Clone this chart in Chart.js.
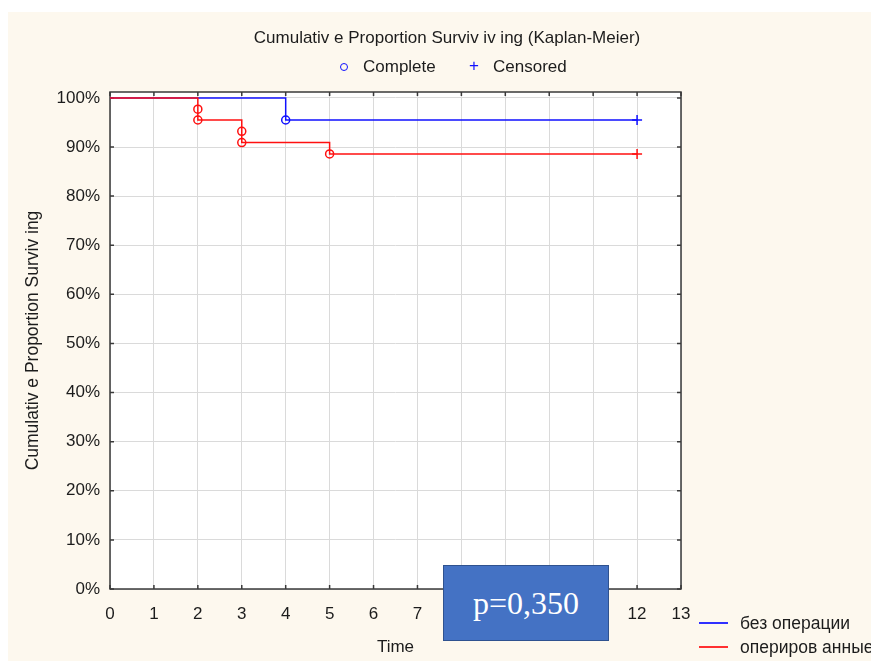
<!DOCTYPE html>
<html><head><meta charset="utf-8">
<script src="https://cdn.jsdelivr.net/npm/chart.js@4.4.1/dist/chart.umd.min.js"></script>
<style>
html,body{margin:0;padding:0;background:#fff;width:871px;height:661px;overflow:hidden;font-family:"Liberation Sans",Arial,sans-serif;}
#bg{position:absolute;left:8px;top:12px;right:0;bottom:0;background:#fdf8ee;}
#c{position:absolute;left:0;top:0;}
.t{position:absolute;white-space:nowrap;color:#1c1c1c;font-size:17px;line-height:20px;}
#title{left:447px;top:28px;transform:translateX(-50%);}
#sym1{position:absolute;left:340px;top:63px;width:6px;height:6px;border:1.5px solid #1010ff;border-radius:50%;}
#lab1{left:363px;top:57px;}
#sym2{left:469px;top:56px;color:#1010ff;}
#lab2{left:493px;top:57px;}
#pbox{position:absolute;left:443px;top:565px;width:164px;height:74px;background:#4472c4;border:1.5px solid #2f528f;color:#fff;font-family:"Liberation Serif","Times New Roman",serif;font-size:32px;display:flex;align-items:center;justify-content:center;}
.ln{position:absolute;left:699px;width:29px;height:2px;}
.lg{font-size:17.5px;}
</style>
</head><body>
<div id="bg"></div>
<canvas id="c" width="871" height="661"></canvas>
<div class="t" id="title">Cumulativ e Proportion Surviv iv ing (Kaplan-Meier)</div>
<div id="sym1"></div>
<div class="t" id="lab1">Complete</div>
<div class="t" id="sym2">+</div>
<div class="t" id="lab2">Censored</div>
<div id="pbox">p=0,350</div>
<div class="ln" style="top:622px;background:#3030ff"></div>
<div class="t lg" style="left:740px;top:613px">без операции</div>
<div class="ln" style="top:646px;background:#ff3030"></div>
<div class="t lg" style="left:740px;top:637px">опериров анные</div>
<script>
// ---- data ----
const xTicks = [0,1,2,3,4,5,6,7,8,9,10,11,12,13];
const yTicks = [0,0.1,0.2,0.3,0.4,0.5,0.6,0.7,0.8,0.9,1.0];
const seriesNames = ["без операции", "опериров анные"];
// без операции
const blueTimes = [0, 4, 12];
const blueSurv  = [1.0, 0.955, 0.955];
const blueEventTimes = [4];
const blueEventSurv  = [0.955];
const blueCensTimes = [12];
const blueCensSurv  = [0.955];
// оперированные
const redTimes = [0, 2, 3, 5, 12];
const redSurv  = [1.0, 0.955, 0.909, 0.886, 0.886];
const redEventTimes = [2, 2, 3, 3, 5];
const redEventSurv  = [0.977, 0.955, 0.932, 0.909, 0.886];
const redCensTimes = [12];
const redCensSurv  = [0.886];

const BLUE = '#1010ff', RED = '#ff1010';
const pts = (xs, ys) => xs.map((x, i) => ({x, y: ys[i]}));

const framePlugin = {
  id: 'frame',
  beforeDatasetsDraw(chart) {
    const {ctx, chartArea: a, scales} = chart;
    ctx.save();
    ctx.strokeStyle = '#3a3a3a';
    ctx.lineWidth = 1.5;
    ctx.strokeRect(a.left, a.top, a.right - a.left, a.bottom - a.top);
    ctx.beginPath();
    xTicks.forEach(v => {
      const px = scales.x.getPixelForValue(v);
      ctx.moveTo(px, a.bottom); ctx.lineTo(px, a.bottom - 4);
      ctx.moveTo(px, a.top); ctx.lineTo(px, a.top + 4);
    });
    yTicks.forEach(v => {
      const py = scales.y.getPixelForValue(v);
      ctx.moveTo(a.left, py); ctx.lineTo(a.left + 4, py);
      ctx.moveTo(a.right, py); ctx.lineTo(a.right - 4, py);
    });
    ctx.stroke();
    ctx.restore();
  },
  beforeDraw(chart) {
    const {ctx, chartArea: a} = chart;
    ctx.save();
    ctx.fillStyle = '#ffffff';
    ctx.fillRect(a.left, a.top, a.right - a.left, a.bottom - a.top);
    ctx.restore();
  }
};

Chart.defaults.font.family = '"Liberation Sans", Arial, sans-serif';
Chart.defaults.color = '#1c1c1c';

new Chart(document.getElementById('c'), {
  type: 'scatter',
  data: {
    datasets: [
      {label: seriesNames[1], data: pts(redTimes, redSurv), showLine: true, stepped: true,
       borderColor: RED, borderWidth: 1.5, pointRadius: 0, fill: false},
      {label: seriesNames[0], data: pts(blueTimes, blueSurv), showLine: true, stepped: true,
       borderColor: BLUE, borderWidth: 1.5, pointRadius: 0, fill: false},
      {label: 'Complete', data: pts(redEventTimes, redEventSurv), showLine: false,
       pointStyle: 'circle', pointRadius: 4, borderColor: RED, backgroundColor: 'rgba(0,0,0,0)', pointBorderWidth: 1.5},
      {label: 'Complete', data: pts(blueEventTimes, blueEventSurv), showLine: false,
       pointStyle: 'circle', pointRadius: 4, borderColor: BLUE, backgroundColor: 'rgba(0,0,0,0)', pointBorderWidth: 1.5},
      {label: 'Censored', data: pts(redCensTimes, redCensSurv), showLine: false,
       pointStyle: 'cross', pointRadius: 5, borderColor: RED, pointBorderWidth: 1.5},
      {label: 'Censored', data: pts(blueCensTimes, blueCensSurv), showLine: false,
       pointStyle: 'cross', pointRadius: 5, borderColor: BLUE, pointBorderWidth: 1.5}
    ]
  },
  options: {
    responsive: false,
    animation: false,
    devicePixelRatio: 1,
    layout: {padding: {top: 92, right: 190, left: 0, bottom: 0}},
    plugins: {legend: {display: false}, tooltip: {enabled: false}, title: {display: false}},
    scales: {
      x: {
        type: 'linear', min: 0, max: 13,
        afterBuildTicks: s => { s.ticks = xTicks.map(v => ({value: v})); },
        afterFit: s => { s.height = 72; },
        grid: {color: '#dadada', lineWidth: 1, drawTicks: false},
        border: {display: false},
        ticks: {font: {size: 17}, padding: 15, maxRotation: 0, autoSkip: false},
        title: {display: true, text: 'Time', font: {size: 17}, padding: {top: 4, bottom: 3}}
      },
      y: {
        type: 'linear', min: 0, max: 1.012,
        afterBuildTicks: s => { s.ticks = yTicks.map(v => ({value: v})); },
        afterFit: s => { s.width = 110; },
        grid: {color: '#dadada', lineWidth: 1, drawTicks: false},
        border: {display: false},
        ticks: {font: {size: 17}, padding: 10, autoSkip: false,
                callback: v => Math.round(v * 100) + '%'},
        title: {display: true, text: 'Cumulativ e Proportion Surviv ing', font: {size: 17.5}, padding: {top: 23, bottom: 4}}
      }
    }
  },
  plugins: [framePlugin]
});
</script>
</body></html>
